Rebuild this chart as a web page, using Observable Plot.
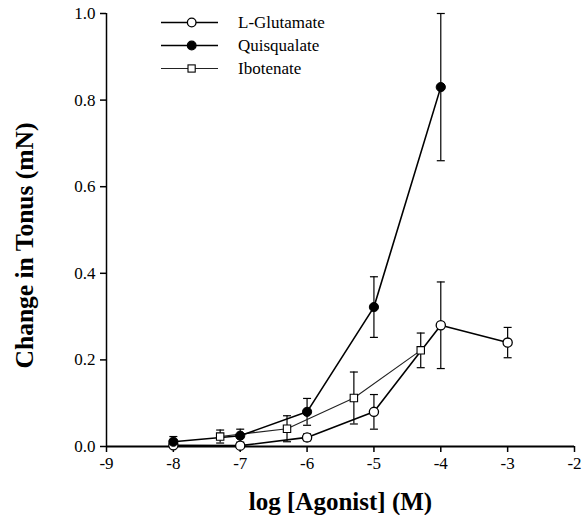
<!DOCTYPE html>
<html>
<head>
<meta charset="utf-8">
<script src="https://cdn.jsdelivr.net/npm/d3@7"></script>
<script src="https://cdn.jsdelivr.net/npm/@observablehq/plot@0.6"></script>
<style>
  html, body { margin: 0; padding: 0; background: #fff; }
  #chart { width: 584px; height: 515px; }
  #chart svg, #chart svg g, #chart svg text { font-family: "Liberation Serif", "Times New Roman", serif !important; }
</style>
</head>
<body>
<div id="chart"></div>
<script>
// ---- data ----
const xTicks = [-9, -8, -7, -6, -5, -4, -3, -2];
const yTicks = [0, 0.2, 0.4, 0.6, 0.8, 1.0];

const glutX   = [-8, -7, -6, -5, -4, -3];
const glutY   = [0.003, 0.002, 0.021, 0.08, 0.28, 0.24];
const glutErr = [0.0, 0.0, 0.008, 0.04, 0.10, 0.035];

const quisX   = [-8, -7, -6, -5, -4];
const quisY   = [0.011, 0.025, 0.08, 0.322, 0.83];
const quisErr = [0.012, 0.015, 0.031, 0.07, 0.17];

const iboX   = [-7.3, -6.3, -5.3, -4.3];
const iboY   = [0.023, 0.041, 0.112, 0.222];
const iboErr = [0.015, 0.03, 0.06, 0.04];

const seriesNames = ["L-Glutamate", "Quisqualate", "Ibotenate"];
const xTitle = "log [Agonist] (M)";
const yTitle = "Change in Tonus (mN)";

// ---- build tables ----
const mk = (name, xs, ys, es) => xs.map((x, i) => ({series: name, x, y: ys[i], lo: ys[i] - es[i], hi: ys[i] + es[i], err: es[i]}));
const glut = mk(seriesNames[0], glutX, glutY, glutErr);
const quis = mk(seriesNames[1], quisX, quisY, quisErr);
const ibo  = mk(seriesNames[2], iboX, iboY, iboErr);
const all = [...glut, ...quis, ...ibo].filter(d => d.err > 0);

// horizontal cap symbol for error bars, and a fixed-size square
const capSymbol = { draw(ctx, size) { const w = 4; ctx.moveTo(-w, 0); ctx.lineTo(w, 0); } };
const squareSymbol = { draw(ctx, size) { const s = 3.7; ctx.rect(-s, -s, 2 * s, 2 * s); } };

const font = "Liberation Serif, Times New Roman, serif";

const chart = Plot.plot({
  width: 584,
  height: 515,
  marginLeft: 106,
  marginRight: 10,
  marginTop: 13,
  marginBottom: 69,
  style: { fontFamily: font, fontSize: "17px", color: "#000", background: "#fff" },
  x: { domain: [-9, -2] },
  y: { domain: [0, 1] },
  marks: [
    Plot.axisX({ ticks: xTicks, tickFormat: d => String(d), tickSize: 6, tickPadding: 4, label: null, fontSize: 17, strokeWidth: 1.5, className: "tickx" }),
    Plot.axisY({ ticks: yTicks, tickFormat: d3.format(".1f"), tickSize: 6, tickPadding: 5, label: null, fontSize: 17, strokeWidth: 1.5, className: "ticky" }),
    Plot.ruleY([0], { strokeWidth: 2.2 }),
    Plot.ruleX([-9], { strokeWidth: 1.5 }),
    // error bars
    Plot.ruleX(all, { x: "x", y1: "lo", y2: "hi", stroke: "#000", strokeWidth: 1.2 }),
    Plot.dot(all, { x: "x", y: "hi", symbol: capSymbol, stroke: "#000", strokeWidth: 1.2, fill: "none" }),
    Plot.dot(all, { x: "x", y: "lo", symbol: capSymbol, stroke: "#000", strokeWidth: 1.2, fill: "none" }),
    // lines
    Plot.line(glut, { x: "x", y: "y", stroke: "#000", strokeWidth: 1.6 }),
    Plot.line(ibo,  { x: "x", y: "y", stroke: "#222", strokeWidth: 1.1 }),
    Plot.line(quis, { x: "x", y: "y", stroke: "#000", strokeWidth: 1.6 }),
    // markers
    Plot.dot(glut, { x: "x", y: "y", r: 4.6, fill: "#fff", stroke: "#000", strokeWidth: 1.3 }),
    Plot.dot(ibo,  { x: "x", y: "y", symbol: squareSymbol, fill: "#fff", stroke: "#000", strokeWidth: 1.1 }),
    Plot.dot(quis, { x: "x", y: "y", r: 4.6, fill: "#000", stroke: "#000", strokeWidth: 1 }),
    // axis titles
    Plot.text([xTitle], { frameAnchor: "bottom", textAnchor: "middle", lineAnchor: "bottom", dy: 63, fontSize: 25, fontWeight: "bold", fill: "#000" }),
    Plot.text([yTitle], { frameAnchor: "left", textAnchor: "middle", lineAnchor: "middle", rotate: -90, dx: -82, dy: 15.5, fontSize: 25, fontWeight: "bold", fill: "#000", className: "ytitle" })
  ]
});

const svg = d3.select(chart);
svg.selectAll("text").style("font-family", font);
// tick labels: force serif and size inline
svg.selectAll("g[aria-label$='tick label'], g[aria-label$='tick label'] text")
  .style("font-family", font).style("font-size", "17px").attr("font-size", 17);
// the reference's y title is horizontally stretched: fit it to its length
svg.selectAll(".ytitle text").attr("textLength", 246).attr("lengthAdjust", "spacingAndGlyphs");

// ---- legend drawn into the SVG ----
const leg = svg.append("g").attr("font-family", font).attr("font-size", 17).attr("text-anchor", "start");
const rows = [
  { name: seriesNames[0], kind: "open" },
  { name: seriesNames[1], kind: "filled" },
  { name: seriesNames[2], kind: "square" }
];
rows.forEach((r, i) => {
  const yy = 22.5 + i * 23;
  const g = leg.append("g").attr("transform", `translate(0,${yy})`);
  g.append("line").attr("x1", 161).attr("x2", 218).attr("y1", 0).attr("y2", 0)
    .attr("stroke", r.kind === "square" ? "#222" : "#000").attr("stroke-width", r.kind === "square" ? 1.1 : 1.6);
  if (r.kind === "square") {
    g.append("rect").attr("x", 188).attr("y", -3.6).attr("width", 7.2).attr("height", 7.2)
      .attr("fill", "#fff").attr("stroke", "#000").attr("stroke-width", 1.1);
  } else {
    g.append("circle").attr("cx", 191.7).attr("cy", 0).attr("r", 4.3)
      .attr("fill", r.kind === "filled" ? "#000" : "#fff").attr("stroke", "#000").attr("stroke-width", 1.3);
  }
  g.append("text").attr("x", 238).attr("y", 0).attr("dy", "0.35em").attr("fill", "#000").attr("text-anchor", "start").text(r.name);
});

document.getElementById("chart").appendChild(chart);
</script>
</body>
</html>
